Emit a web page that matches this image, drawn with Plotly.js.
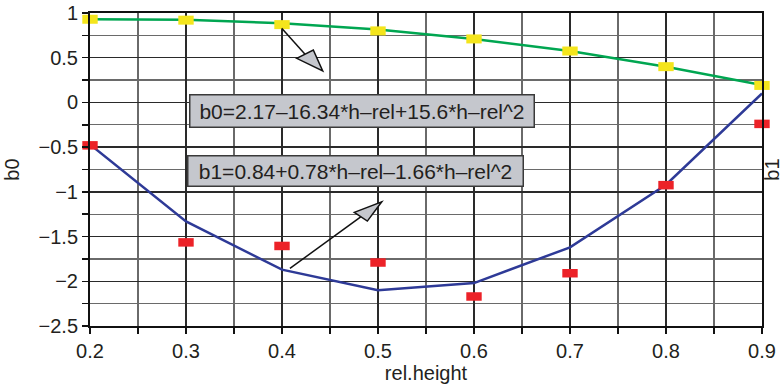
<!DOCTYPE html>
<html>
<head>
<meta charset="utf-8">
<script src="https://cdn.plot.ly/plotly-3.0.1.min.js"></script>
<style>html,body{margin:0;padding:0;background:#fff;}#chart{width:783px;height:389px;}</style>
</head>
<body>
<div id="chart"></div>
<script>
// Data
var relHeight = [0.2, 0.3, 0.4, 0.5, 0.6, 0.7, 0.8, 0.9];
var b0Data = [-0.48, -1.565, -1.605, -1.79, -2.17, -1.91, -0.925, -0.24];
var b0Fit  = [-0.47, -1.33, -1.87, -2.10, -2.02, -1.62, -0.92, 0.10];
var b1Data = [0.93, 0.92, 0.87, 0.80, 0.71, 0.575, 0.40, 0.19];
var b1Fit  = [0.93, 0.925, 0.885, 0.815, 0.71, 0.575, 0.40, 0.195];
var b0Label = "b0=2.17\u201316.34*h\u2013rel+15.6*h\u2013rel^2";
var b1Label = "b1=0.84+0.78*h\u2013rel\u20131.66*h\u2013rel^2";

var FONT = "Liberation Sans, Arial, Helvetica, sans-serif";

var traces = [
  {x: relHeight, y: b0Fit, mode: "lines", line: {color: "#2e3a97", width: 2.5}, yaxis: "y", showlegend: false, cliponaxis: false},
  {x: relHeight, y: b1Fit, mode: "lines", line: {color: "#00a651", width: 2.5}, yaxis: "y2", showlegend: false, cliponaxis: false},
  {x: relHeight, y: b0Data, mode: "markers", yaxis: "y", showlegend: false, cliponaxis: false,
   marker: {symbol: "line-ew", size: 11, color: "#ec2228", line: {width: 8.5, color: "#ec2228"}}},
  {x: relHeight, y: b1Data, mode: "markers", yaxis: "y2", showlegend: false, cliponaxis: false,
   marker: {symbol: "line-ew", size: 11, color: "#f4e51c", line: {width: 9, color: "#f4e51c"}}}
];

var layout = {
  width: 783, height: 389,
  margin: {l: 90, r: 21, t: 13, b: 63, pad: 0},
  paper_bgcolor: "#ffffff", plot_bgcolor: "#ffffff",
  font: {family: FONT, size: 20, color: "#231f20"},
  xaxis: {
    range: [0.2, 0.9], dtick: 0.1, tick0: 0.2, tickformat: ".1f",
    showgrid: true, gridcolor: "#2a2a2a", gridwidth: 1.4,
    zeroline: false, showline: true, linecolor: "#111", linewidth: 2, mirror: true,
    ticks: "outside", ticklen: 6, tickwidth: 1.5, tickcolor: "#111",
    minor: {dtick: 0.05, showgrid: true, gridcolor: "#6a6a6a", gridwidth: 1.2, ticks: "outside", ticklen: 6, tickwidth: 1.5, tickcolor: "#111"},
    tickfont: {size: 20},
    title: {text: "rel.height", font: {size: 20}, standoff: 4},
    automargin: false
  },
  yaxis: {
    range: [-2.5, 1], dtick: 0.5, tick0: 0,
    showgrid: true, gridcolor: "#2a2a2a", gridwidth: 1.4,
    zeroline: false, showline: true, linecolor: "#111", linewidth: 2, mirror: true,
    ticks: "outside", ticklen: 6, tickwidth: 1.5, tickcolor: "#111",
    minor: {dtick: 0.25, showgrid: true, gridcolor: "#6a6a6a", gridwidth: 1.2, ticks: "outside", ticklen: 6, tickwidth: 1.5, tickcolor: "#111"},
    tickfont: {size: 20},
    title: {text: "b0", font: {size: 20}, standoff: 14},
    automargin: false
  },
  yaxis2: {
    range: [-2.5, 1], overlaying: "y", side: "right",
    showgrid: false, zeroline: false, showline: false, showticklabels: false, ticks: "",
    title: {text: "b1", font: {size: 20}, standoff: 5},
    automargin: false
  },
  annotations: [
    {xref: "x", yref: "y", x: 0.3034, y: 0.0906, xanchor: "left", yanchor: "top",
     text: b0Label, showarrow: false, font: {size: 21, color: "#231f20"},
     bgcolor: "#c5c7cd", bordercolor: "#3a3a3a", borderwidth: 1.5, borderpad: 2,
     width: 339, height: 27, align: "center", valign: "middle"},
    {xref: "x", yref: "y", x: 0.3014, y: -0.588, xanchor: "left", yanchor: "top",
     text: b1Label, showarrow: false, font: {size: 21, color: "#231f20"},
     bgcolor: "#c5c7cd", bordercolor: "#3a3a3a", borderwidth: 1.5, borderpad: 2,
     width: 330, height: 25, align: "center", valign: "middle"}
  ],
  shapes: [
    {type: "line", xref: "x", yref: "y", x0: 0.3997, y0: 0.829, x1: 0.424, y1: 0.539,
     line: {color: "#111", width: 1.5}, layer: "above"},
    {type: "path", xref: "x", yref: "y", path: "M 0.4153,0.493 L 0.4326,0.586 L 0.4424,0.351 Z",
     fillcolor: "#c5c7cd", line: {color: "#111", width: 1.5}, layer: "above"},
    {type: "line", xref: "x", yref: "y", x0: 0.4083, y0: -1.856, x1: 0.482, y1: -1.279,
     line: {color: "#111", width: 1.5}, layer: "above"},
    {type: "path", xref: "x", yref: "y", path: "M 0.4753,-1.229 L 0.4889,-1.327 L 0.5039,-1.111 Z",
     fillcolor: "#c5c7cd", line: {color: "#111", width: 1.5}, layer: "above"}
  ]
};

Plotly.newPlot("chart", traces, layout, {displayModeBar: false, staticPlot: true});
</script>
</body>
</html>
